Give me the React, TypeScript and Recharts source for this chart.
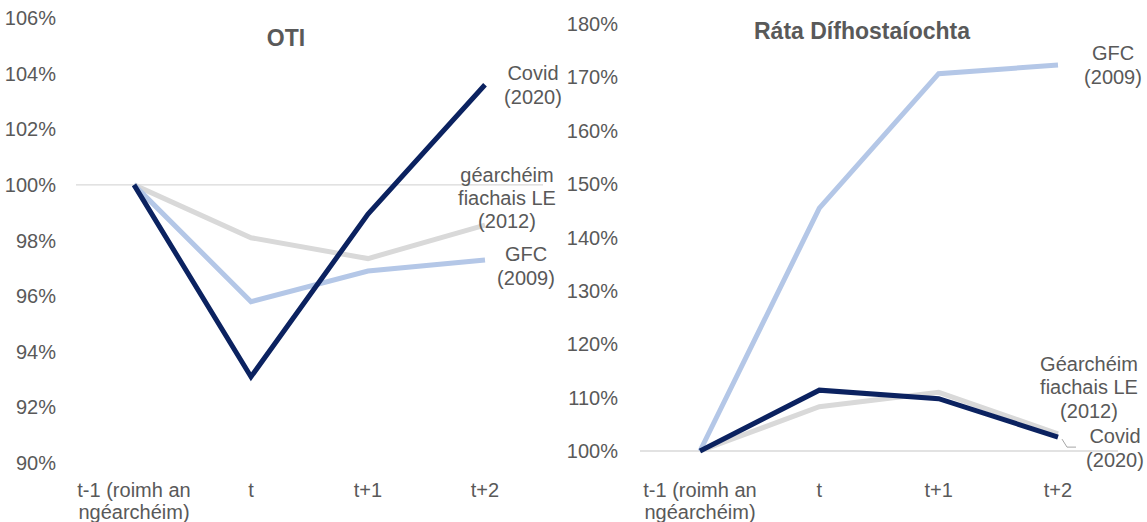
import React from "react";
import { LineChart, Line, XAxis, YAxis, ReferenceLine } from "recharts";

const categories = ["t-1 (roimh an\nngéarchéim)", "t", "t+1", "t+2"];

const otiTicks = [90, 92, 94, 96, 98, 100, 102, 104, 106];
const otiCovid = [100, 93.1, 98.95, 103.6];
const otiGfc = [100, 95.8, 96.9, 97.3];
const otiDebt = [100, 98.1, 97.35, 98.55];

const unTicks = [100, 110, 120, 130, 140, 150, 160, 170, 180];
const unCovid = [100, 111.4, 109.8, 102.6];
const unGfc = [100, 145.5, 170.7, 172.3];
const unDebt = [100, 108.3, 111.0, 103.2];

const titleLeft = "OTI";
const titleRight = "Ráta Dífhostaíochta";

const labelCovid = ["Covid", "(2020)"];
const labelGfc = ["GFC", "(2009)"];
const labelDebtLeft = ["géarchéim", "fiachais LE", "(2012)"];
const labelDebtRight = ["Géarchéim", "fiachais LE", "(2012)"];

const otiData = categories.map((c, i) => ({ cat: c, covid: otiCovid[i], gfc: otiGfc[i], debt: otiDebt[i] }));
const unData = categories.map((c, i) => ({ cat: c, covid: unCovid[i], gfc: unGfc[i], debt: unDebt[i] }));

const FONT = "'Liberation Sans', Arial, sans-serif";
const TXT = "#595959";
const C_COVID = "#0b2260";
const C_GFC = "#b4c7e7";
const C_DEBT = "#d9d9d9";
const LW = 5;

function seriesLabel(lines: string[], dx: number, dys: number[], leader?: boolean) {
  return (props: any) => {
    if (props.index !== categories.length - 1) return null;
    const { x, y } = props;
    return (
      <g>
        {leader && (
          <polyline
            points={`${x + 4},${y + 2} ${x + 9},${y + 10} ${x + 18},${y + 10}`}
            stroke="#a6a6a6"
            fill="none"
            strokeWidth={1}
          />
        )}
        <text textAnchor="middle" fontSize={20} fill={TXT} fontFamily={FONT}>
          {lines.map((l, i) => (
            <tspan key={i} x={x + dx} y={y + dys[i]} dy="0.35em">
              {l}
            </tspan>
          ))}
        </text>
      </g>
    );
  };
}

function makeTick(offset: number) {
  return (props: any) => {
    const { x, y, payload } = props;
    const lines = String(payload.value).split("\n");
    return (
      <text textAnchor="middle" fontSize={20} fill={TXT} fontFamily={FONT}>
        {lines.map((l, i) => (
          <tspan key={i} x={x} y={y + offset + i * 22} dy="0.35em">
            {l}
          </tspan>
        ))}
      </text>
    );
  };
}

export default function App() {
  return (
    <div style={{ position: "relative", width: 1147, height: 522, background: "#fff", overflow: "hidden" }}>
      <style>{`body{margin:0} svg{overflow:visible}`}</style>
      <div style={{ position: "absolute", left: 565, top: 0 }}>
        <LineChart width={582} height={522} data={unData} margin={{ top: 24, right: 29, bottom: 0, left: 0 }}>
          <XAxis
            dataKey="cat"
            axisLine={false}
            tickLine={false}
            tickSize={0}
            height={71}
            interval={0}
            padding={{ left: 60, right: 60 }}
            tick={makeTick(37)}
          />
          <YAxis
            domain={[100, 180]}
            ticks={unTicks}
            width={75}
            axisLine={false}
            tickLine={false}
            tickMargin={16}
            tickFormatter={(v: number) => `${v}%`}
            tick={{ fontSize: 20, fill: TXT, fontFamily: FONT }}
          />
          <ReferenceLine y={100} stroke="#d9d9d9" strokeWidth={1.3} />
          <Line dataKey="debt" stroke={C_DEBT} strokeWidth={LW} dot={false} isAnimationActive={false}
            label={seriesLabel(labelDebtRight, 31, [-70, -47, -23])} />
          <Line dataKey="gfc" stroke={C_GFC} strokeWidth={LW} dot={false} isAnimationActive={false}
            label={seriesLabel(labelGfc, 55, [-12, 12])} />
          <Line dataKey="covid" stroke={C_COVID} strokeWidth={LW} dot={false} isAnimationActive={false}
            label={seriesLabel(labelCovid, 57, [-1, 23], true)} />
        </LineChart>
        <div style={{ position: "absolute", left: 147, width: 300, top: 18, textAlign: "center", fontFamily: FONT, fontWeight: "bold", fontSize: 23, color: TXT }}>
          {titleRight}
        </div>
      </div>
      <div style={{ position: "absolute", left: 0, top: 0 }}>
        <LineChart width={565} height={522} data={otiData} margin={{ top: 18, right: 22, bottom: 0, left: 0 }}>
          <XAxis
            dataKey="cat"
            axisLine={false}
            tickLine={false}
            tickSize={0}
            height={59}
            interval={0}
            padding={{ left: 58, right: 58 }}
            tick={makeTick(25)}
          />
          <YAxis
            domain={[90, 106]}
            ticks={otiTicks}
            width={76}
            axisLine={false}
            tickLine={false}
            tickMargin={14}
            tickFormatter={(v: number) => `${v}%`}
            tick={{ fontSize: 20, fill: TXT, fontFamily: FONT }}
          />
          <ReferenceLine y={100} stroke="#d9d9d9" strokeWidth={1.3} />
          <Line dataKey="debt" stroke={C_DEBT} strokeWidth={LW} dot={false} isAnimationActive={false}
            label={seriesLabel(labelDebtLeft, 22, [-50, -27, -4])} />
          <Line dataKey="gfc" stroke={C_GFC} strokeWidth={LW} dot={false} isAnimationActive={false}
            label={seriesLabel(labelGfc, 41, [-6, 18])} />
          <Line dataKey="covid" stroke={C_COVID} strokeWidth={LW} dot={false} isAnimationActive={false}
            label={seriesLabel(labelCovid, 48, [-12, 12])} />
        </LineChart>
        <div style={{ position: "absolute", left: 186, width: 200, top: 25, textAlign: "center", fontFamily: FONT, fontWeight: "bold", fontSize: 23, color: TXT }}>
          {titleLeft}
        </div>
      </div>
    </div>
  );
}
